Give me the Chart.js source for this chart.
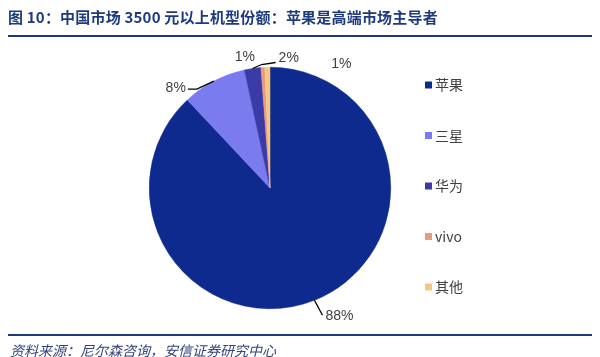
<!DOCTYPE html>
<html><head><meta charset="utf-8">
<script src="https://cdn.jsdelivr.net/npm/chart.js@4"></script>
<style>
html,body{margin:0;padding:0;background:#fff;}
#wrap{position:relative;width:600px;height:357px;overflow:hidden;background:#fff;}
#title{position:absolute;left:8px;top:6px;font:bold 15px "Noto Sans CJK SC",sans-serif;color:#1e3a7e;white-space:nowrap;letter-spacing:0.2px;}
#tline{position:absolute;left:8px;top:35px;width:584px;height:2px;background:#1e3a78;}
#fline{position:absolute;left:8px;top:334px;width:584px;height:1.5px;background:#1e3a78;}
#src{position:absolute;left:10px;top:340px;font:italic 14px "Noto Sans CJK SC",sans-serif;color:#34447a;white-space:nowrap;}
canvas{position:absolute;left:0;top:0;}
</style></head>
<body>
<div id="wrap">
<canvas id="c" width="600" height="357"></canvas>
<div id="title">图 10：中国市场 3500 元以上机型份额：苹果是高端市场主导者</div>
<div id="tline"></div>
<div id="fline"></div>
<div id="src">资料来源：尼尔森咨询，安信证券研究中心</div>
</div>
<script>
const categories = ['苹果', '三星', '华为', 'vivo', '其他'];
const shares = [88, 8.6, 2.2, 0.5, 0.7];
const shareLabels = ['88%', '8%', '2%', '1%', '1%'];
const colors = ['#0e2a8e', '#7b7bf0', '#3b3ba8', '#e89a80', '#f5c882'];

// label placement relative to slice edge midpoint (dx, dy)
const labelLayout = [
  {leader: [[8, 15]], text: [11, 16], align: 'left'},
  {leader: [[-17, 8], [-26, 8]], text: [-28, 7], align: 'right'},
  {leader: [[9, -4], [23, -6]], text: [26, -10], align: 'left'},
  {leader: [], text: [-18, -10], align: 'center'},
  {leader: [], text: [74, -3], align: 'center'}
];

const labelPlugin = {
  id: 'labels',
  afterDatasetsDraw(chart) {
    const ctx = chart.ctx;
    const meta = chart.getDatasetMeta(0);
    ctx.save();
    ctx.font = '14px "Liberation Sans", Arial, sans-serif';
    ctx.fillStyle = '#404040';
    ctx.strokeStyle = '#000';
    ctx.lineWidth = 1.3;
    ctx.textBaseline = 'middle';
    meta.data.forEach((arc, i) => {
      const p = arc.getProps(['x', 'y', 'startAngle', 'endAngle', 'outerRadius'], true);
      const a = (p.startAngle + p.endAngle) / 2;
      const px = p.x + Math.cos(a) * p.outerRadius;
      const py = p.y + Math.sin(a) * p.outerRadius;
      const L = labelLayout[i];
      if (L.leader.length) {
        ctx.beginPath();
        ctx.moveTo(px, py);
        L.leader.forEach(o => ctx.lineTo(px + o[0], py + o[1]));
        ctx.stroke();
      }
      ctx.textAlign = L.align;
      ctx.fillText(shareLabels[i], px + L.text[0], py + L.text[1]);
    });
    ctx.restore();
  }
};

const legendPlugin = {
  id: 'sideLegend',
  afterDraw(chart) {
    const ctx = chart.ctx;
    ctx.save();
    ctx.font = '14px "Noto Sans CJK SC", sans-serif';
    ctx.textBaseline = 'middle';
    ctx.textAlign = 'left';
    chart.data.labels.forEach((lab, i) => {
      const yc = 85 + i * 50.5;
      ctx.fillStyle = chart.data.datasets[0].backgroundColor[i];
      ctx.fillRect(425, yc - 3.5, 7, 7);
      ctx.fillStyle = '#404040';
      ctx.fillText(lab, 435, yc);
    });
    ctx.restore();
  }
};

new Chart(document.getElementById('c'), {
  type: 'pie',
  data: {
    labels: categories,
    datasets: [{
      data: shares,
      backgroundColor: colors,
      borderColor: colors,
      borderWidth: 0.5
    }]
  },
  options: {
    responsive: false,
    animation: false,
    layout: {padding: {left: 149, right: 209, top: 67, bottom: 48}},
    plugins: {legend: {display: false}, tooltip: {enabled: false}}
  },
  plugins: [labelPlugin, legendPlugin]
});
</script>
</body></html>
